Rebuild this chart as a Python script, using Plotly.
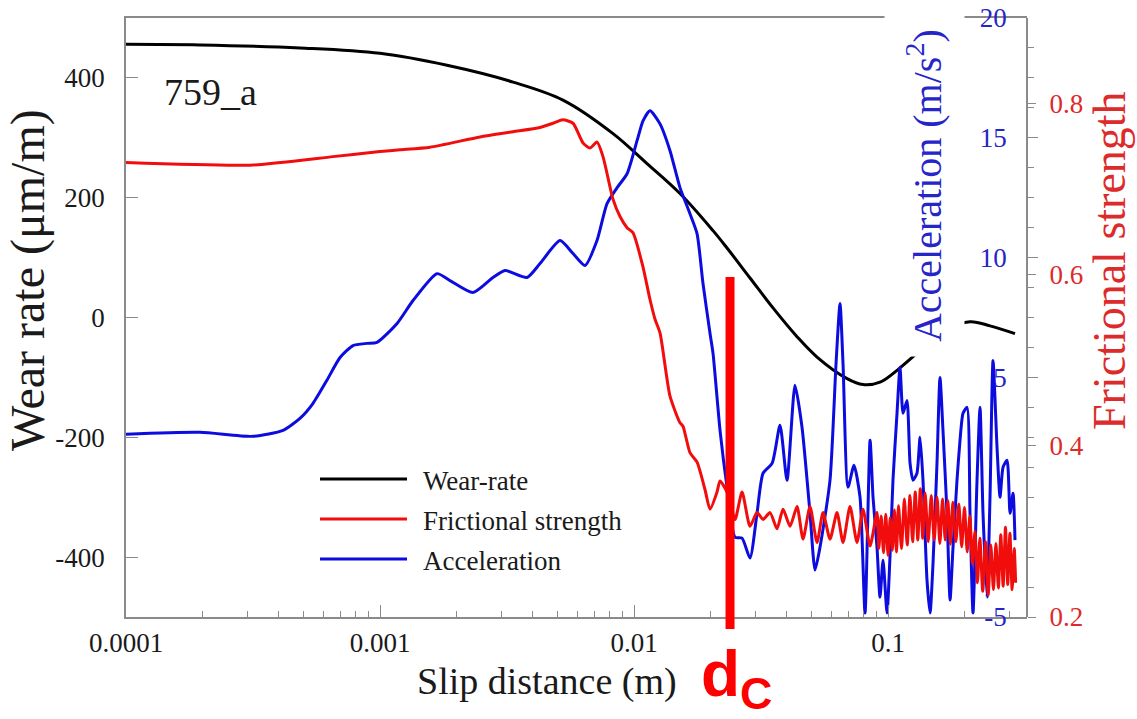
import plotly.graph_objects as go

# ---------------- data ----------------
slip_wear = [1.0e-4, 1.954e-4, 4.84e-4, 1.0e-3, 1.836e-3, 3.34e-3, 5.25e-3, 8.27e-3,
             0.01125, 0.01517, 0.02047, 0.02324, 0.02862, 0.03525, 0.04383, 0.05254,
             0.0690, 0.0797, 0.0930, 0.1115, 0.1373, 0.1676, 0.2103, 0.2521, 0.3162]
wear_rate = [456, 455, 450, 441, 421, 393, 363, 307,
             257, 207, 145, 116, 66, 16, -32, -66,
             -102, -112, -108, -84, -51, -22, -7, -14, -27]

slip_fric = [1.0e-4, 3.08e-4, 6.53e-4, 1.0e-3, 1.199e-3, 1.573e-3, 2.476e-3, 3.34e-3,
             4.265e-3, 4.80e-3, 5.25e-3, 5.753e-3, 6.30e-3, 6.711e-3, 7.15e-3, 7.55e-3,
             8.27e-3, 8.809e-3, 9.39e-3, 9.91e-3, 0.01085, 0.01156, 0.0121, 0.01266,
             0.01386, 0.01517, 0.01559, 0.01661, 0.01771, 0.01903, 0.01992, 0.02122,
             0.02181, 0.02324, 0.02498, 0.02663, 0.02862, 0.0305, 0.03221, 0.03432,
             0.03657, 0.03861, 0.04114, 0.04383, 0.04628, 0.04931, 0.05254, 0.05548,
             0.05911, 0.06298, 0.06651, 0.07086, 0.0755, 0.0797, 0.085, 0.0905,
             0.092, 0.094, 0.096, 0.098, 0.100, 0.102, 0.104, 0.106,
             0.108, 0.110, 0.113, 0.116, 0.119, 0.122, 0.125, 0.128,
             0.131, 0.134, 0.137, 0.140, 0.144, 0.148, 0.152, 0.156,
             0.160, 0.164, 0.168, 0.172, 0.176, 0.180, 0.185, 0.190,
             0.195, 0.200, 0.205, 0.210, 0.215, 0.220, 0.225, 0.230,
             0.236, 0.242, 0.248, 0.254, 0.260, 0.266, 0.272, 0.278,
             0.284, 0.290, 0.296, 0.302, 0.308, 0.314, 0.318]
frictional_strength = [0.731, 0.728, 0.738, 0.744, 0.746, 0.749, 0.761, 0.767,
                       0.772, 0.777, 0.781, 0.777, 0.754, 0.748, 0.755, 0.738,
                       0.688, 0.668, 0.655, 0.649, 0.609, 0.571, 0.548, 0.532,
                       0.458, 0.427, 0.423, 0.392, 0.381, 0.349, 0.326, 0.346,
                       0.359, 0.346, 0.314, 0.346, 0.306, 0.322, 0.314, 0.322,
                       0.303, 0.326, 0.306, 0.329, 0.291, 0.329, 0.287, 0.322,
                       0.291, 0.322, 0.287, 0.329, 0.287, 0.326, 0.283, 0.322,
                       0.280, 0.318, 0.275, 0.320, 0.272, 0.316, 0.278, 0.325,
                       0.276, 0.330, 0.280, 0.338, 0.284, 0.342, 0.288, 0.346,
                       0.290, 0.350, 0.292, 0.345, 0.288, 0.342, 0.290, 0.340,
                       0.286, 0.338, 0.290, 0.336, 0.285, 0.334, 0.288, 0.332,
                       0.282, 0.328, 0.276, 0.318, 0.262, 0.300, 0.240, 0.292,
                       0.230, 0.288, 0.226, 0.284, 0.232, 0.286, 0.234, 0.296,
                       0.236, 0.305, 0.238, 0.298, 0.232, 0.280, 0.240]

slip_acc = [1.0e-4, 1.954e-4, 3.162e-4, 4.15e-4, 4.84e-4, 5.45e-4, 6.18e-4, 6.96e-4,
            7.83e-4, 8.89e-4, 9.73e-4, 1.167e-3, 1.349e-3, 1.676e-3, 1.886e-3, 2.324e-3,
            2.786e-3, 3.106e-3, 3.79e-3, 4.265e-3, 5.113e-3, 5.753e-3, 6.414e-3, 7.15e-3,
            7.83e-3, 8.58e-3, 9.39e-3, 0.01028, 0.01085, 0.01156, 0.01266, 0.01386,
            0.01517, 0.01661, 0.01771, 0.01869, 0.01992, 0.02047, 0.02181, 0.02324,
            0.02498, 0.02663, 0.02862, 0.0305, 0.03221, 0.0350, 0.03757, 0.04003,
            0.04303, 0.04586, 0.04931, 0.0516, 0.0540, 0.05911, 0.06243, 0.06472,
            0.06651, 0.0696, 0.07348, 0.0776, 0.0812, 0.0850, 0.0873, 0.0905,
            0.0930, 0.0956, 0.0991, 0.1018, 0.1046, 0.1085, 0.1115, 0.1146,
            0.1188, 0.1221, 0.1254, 0.1300, 0.1337, 0.1373, 0.1424, 0.1464,
            0.1504, 0.1559, 0.1602, 0.1646, 0.1707, 0.1755, 0.1803, 0.1869,
            0.1921, 0.1974, 0.2047, 0.2103, 0.2161, 0.2241, 0.2303, 0.2366,
            0.2454, 0.2521, 0.2591, 0.2687, 0.2761, 0.2837, 0.2942, 0.3023,
            0.3106, 0.3162]
acceleration = [2.63, 2.71, 2.54, 2.79, 3.29, 3.92, 4.88, 5.83,
                6.33, 6.42, 6.46, 7.25, 8.21, 9.33, 9.04, 8.54,
                9.17, 9.46, 9.17, 9.75, 10.71, 10.17, 9.67, 10.71,
                12.25, 12.92, 13.5, 14.88, 15.71, 16.13, 15.58, 14.46,
                12.92, 11.83, 11.0, 8.92, 6.83, 6.0, 2.79, 0.42,
                -1.67, -1.71, -2.54, -0.67, 1.0, 1.42, 3.0, 0.71,
                4.67, 2.92, -0.67, -3.04, -2.08, 0.71, 5.58, 8.08,
                5.58, 0.42, 1.33, 0.0, -4.83, 2.38, 0.0, -2.08,
                -4.17, -2.63, -4.83, -2.5, 0.71, 3.5, 5.42, 3.5,
                4.04, 1.42, 0.71, 1.0, 2.5, 0.71, -3.46, -4.83,
                -2.75, 1.42, 5.0, 2.79, -0.67, -4.29, -2.08, 0.71,
                2.38, 3.5, 3.75, -0.67, -4.83, 0.71, 3.75, -0.67,
                -4.17, 0.0, 5.71, 2.08, 0.0, 1.25, 1.54, -0.67,
                0.17, -1.79]

x_tick_vals = [1e-4, 1e-3, 1e-2, 1e-1]
x_tick_text = ["0.0001", "0.001", "0.01", "0.1"]
wear_ticks = [-400, -200, 0, 200, 400]
wear_tick_text = ["-400", "-200", "0", "200", "400"]
acc_ticks = [-5, 5, 10, 15, 20]
acc_tick_text = ["-5", "5", "10", "15", "20"]
fric_ticks = [0.2, 0.4, 0.6, 0.8]
fric_tick_text = ["0.2", "0.4", "0.6", "0.8"]

BLUE = "#0c0ce0"
BLUE_TXT = "#2626c8"
RED = "#f20d0d"
RED_TXT = "#dd2a2a"
GREY = "#8a8a8a"
SERIF = "Liberation Serif, Times New Roman, serif"
INK = "#1a1a1a"

fig = go.Figure()
fig.add_trace(go.Scatter(x=slip_wear, y=wear_rate, mode="lines", name="Wear-rate",
                         line=dict(color="black", width=3, shape="spline", smoothing=1.0),
                         yaxis="y", showlegend=False))
fig.add_trace(go.Scatter(x=slip_acc, y=acceleration, mode="lines", name="Acceleration",
                         line=dict(color=BLUE, width=3, shape="spline", smoothing=0.6),
                         yaxis="y2", showlegend=False))
fig.add_trace(go.Scatter(x=slip_fric, y=frictional_strength, mode="lines", name="Frictional strength",
                         line=dict(color=RED, width=3, shape="spline", smoothing=0.6),
                         yaxis="y3", showlegend=False))

fig.update_layout(
    width=1137, height=719,
    margin=dict(l=126, r=110, t=18, b=102, autoexpand=False),
    paper_bgcolor="white", plot_bgcolor="white",
    font=dict(family=SERIF, size=27, color=INK),
    xaxis=dict(type="log", range=[-4, -0.4528], tickmode="array",
               tickvals=x_tick_vals, ticktext=x_tick_text, automargin=False,
               ticks="inside", ticklen=12, tickcolor=GREY, tickwidth=1.2,
               showline=True, linecolor=GREY, linewidth=1.5, mirror=True,
               showgrid=False, zeroline=False, ticklabelstandoff=1,
               tickfont=dict(family=SERIF, size=27, color=INK),
               minor=dict(dtick="D1", ticks="inside", ticklen=6, tickcolor=GREY,
                          showgrid=False)),
    yaxis=dict(range=[-500, 500], tickmode="array", tickvals=wear_ticks,
               ticktext=wear_tick_text, automargin=False,
               ticks="inside", ticklen=12, tickcolor=GREY, tickwidth=1.2,
               showline=True, linecolor=GREY, linewidth=1.5,
               tickfont=dict(family=SERIF, size=27, color=INK),
               showgrid=False, zeroline=False, ticklabelstandoff=14),
    yaxis2=dict(overlaying="y", side="left", anchor="free", position=1.0,
                range=[-5, 20], automargin=False,
                tickmode="array", tickvals=acc_ticks, ticktext=acc_tick_text,
                ticks="inside", ticklen=10,
                tickcolor=GREY, tickwidth=1.2,
                tickfont=dict(family=SERIF, color=BLUE_TXT, size=27),
                showline=True, linecolor=GREY, linewidth=1.5,
                showgrid=False, zeroline=False, ticklabelstandoff=14,
                minor=dict(dtick=1.25, tick0=0, ticks="inside", ticklen=6,
                           tickcolor=GREY, showgrid=False)),
    yaxis3=dict(overlaying="y", side="right", anchor="x", range=[0.2, 0.9],
                automargin=False,
                tickmode="array", tickvals=fric_ticks, ticktext=fric_tick_text,
                ticks="outside", ticklen=8, tickcolor=GREY, tickwidth=1.2,
                tickfont=dict(family=SERIF, color=RED_TXT, size=27),
                showline=False, showgrid=False, zeroline=False, ticklabelstandoff=8),
)

annotations = [
    dict(text="759_a", x=0.040, y=0.8765, xanchor="left", yanchor="middle",
         font=dict(size=38, color=INK, family=SERIF)),
    dict(text="Slip distance (m)", x=0.4673, y=-0.1085, xanchor="center", yanchor="middle",
         font=dict(size=38, color=INK, family=SERIF)),
    dict(text="Wear rate (\u03bcm/m)", x=-0.1088, y=0.5626, xanchor="center", yanchor="middle",
         textangle=-90, font=dict(size=48, color=INK, family=SERIF)),
    dict(text="Frictional strength", x=1.0921, y=0.596, xanchor="center", yanchor="middle",
         textangle=-90, font=dict(size=46, color=RED_TXT, family=SERIF)),
    dict(text="Acceleration (m/s<sup>2</sup>)", x=0.8857, y=0.7195, xanchor="center",
         yanchor="middle", textangle=-90, bgcolor="white", borderpad=14,
         font=dict(size=40, color=BLUE_TXT, family=SERIF)),
    dict(text="<b>d<sub>C</sub></b>", x=0.636, y=-0.032, xanchor="left", yanchor="top",
         font=dict(size=64, color="#ff0000", family="Liberation Sans, Arial, sans-serif")),
]
# legend drawn as sample lines + labels
legend_items = [("Wear-rate", "black", 0.2304, 0.227),
                ("Frictional strength", RED, 0.1636, 0.1603),
                ("Acceleration", BLUE, 0.0968, 0.0935)]
shapes = []
for label, col, ly, ty in legend_items:
    shapes.append(dict(type="line", xref="paper", yref="paper", x0=0.2153, x1=0.3119,
                       y0=ly, y1=ly, line=dict(color=col, width=3)))
    annotations.append(dict(text=label, x=0.327, y=ty, xanchor="left", yanchor="middle",
                            font=dict(size=27, color=INK, family=SERIF)))
for a in annotations:
    a.update(xref="paper", yref="paper", showarrow=False)

# critical slip distance d_c marker
shapes.append(dict(type="line", xref="paper", yref="paper", x0=0.6704, x1=0.6704,
                   y0=0.5676, y1=-0.02, line=dict(color="#ff0000", width=9)))

fig.update_layout(annotations=annotations, shapes=shapes)

fig.write_html("out.html", config={"displayModeBar": False},
               post_script="document.body.style.margin='0';")
